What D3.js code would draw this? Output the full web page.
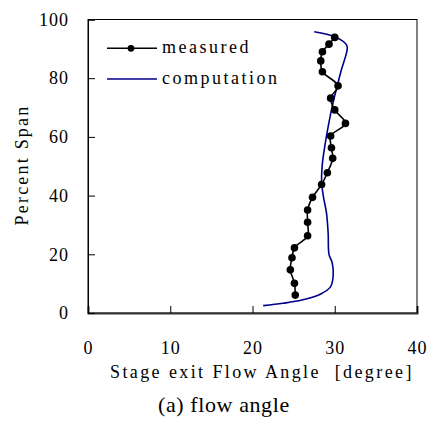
<!DOCTYPE html>
<html>
<head>
<meta charset="utf-8">
<title>flow angle</title>
<script src="https://cdnjs.cloudflare.com/ajax/libs/d3/7.8.5/d3.min.js"></script>
<style>
body { margin: 0; background: #fff; }
</style>
</head>
<body>
<div class="content"></div>
<script>
// measured: flow angle [deg], percent span
var measAngle = [30.0, 29.3, 28.5, 28.3, 28.5, 30.4, 29.5, 30.0, 31.3, 29.5, 29.6, 29.75, 29.1, 28.4, 27.3, 26.7, 26.7, 26.7, 25.1, 24.8, 24.6, 25.1, 25.2];
var measSpan  = [93.9, 91.6, 89.0, 85.9, 82.2, 77.4, 73.2, 69.2, 64.6, 60.3, 56.3, 52.7, 47.8, 43.8, 39.4, 35.1, 30.9, 26.3, 22.2, 18.8, 14.7, 10.1, 6.1];

// computation
var compAngle = [27.5, 30.0, 31.45, 31.5, 30.8, 30.4, 29.7, 29.2, 28.8, 28.5, 28.4, 28.6, 29.0, 29.2, 29.3, 29.7, 29.8, 29.5, 28.3, 26.0, 23.7, 21.3];
var compSpan  = [95.8, 94.1, 91.3, 89.6, 82.8, 78.5, 70.5, 63.5, 57.0, 51.0, 45.0, 40.0, 34.0, 27.0, 20.0, 17.0, 12.5, 9.0, 6.5, 4.4, 3.3, 2.5];

var xTicks = [0, 10, 20, 30, 40];
var yTicks = [0, 20, 40, 60, 80, 100];

var serif = "'Liberation Serif', 'Times New Roman', serif";

var margin = { top: 19.5, left: 88, right: 19, bottom: 108 };
var W = 436, H = 421;
var width = W - margin.left - margin.right,
    height = H - margin.top - margin.bottom;

var svg = d3.select(".content").append("svg")
    .attr("width", W).attr("height", H)
    .style("font-family", serif);

svg.append("rect").attr("width", W).attr("height", H).style("fill", "#fff");

var g = svg.append("g")
    .attr("transform", "translate(" + margin.left + "," + margin.top + ")");

var x = d3.scaleLinear().domain([0, 40]).range([0, width]),
    y = d3.scaleLinear().domain([0, 100]).range([height, 0]);

// frame
g.append("rect")
    .attr("width", width).attr("height", height)
    .style("fill", "none").style("stroke", "#000").style("stroke-width", 1);

var xAxis = d3.axisBottom(x).tickValues(xTicks).tickSize(-7).tickPadding(28);
var yAxis = d3.axisLeft(y).tickValues(yTicks).tickSize(-7).tickPadding(19);

g.append("g")
    .attr("class", "axis axis--x")
    .attr("transform", "translate(0," + height + ")")
    .call(xAxis);

g.append("g")
    .attr("class", "axis axis--y")
    .call(yAxis);

g.selectAll(".axis").attr("font-family", null).attr("font-size", null);
g.selectAll(".tick text")
    .style("font-family", serif)
    .style("font-size", "18px")
    .style("letter-spacing", "1px")
    .style("fill", "#000");
g.selectAll(".domain").style("stroke", "#000");
g.select(".axis--x .domain").style("stroke", "#333").style("stroke-width", 2);
g.selectAll(".tick line").style("stroke", "#000");

var lineMeas = d3.line()
    .curve(d3.curveCatmullRom)
    .x(function (d, i) { return x(measAngle[i]); })
    .y(function (d, i) { return y(measSpan[i]); });

var lineComp = d3.line()
    .curve(d3.curveCatmullRom)
    .x(function (d, i) { return x(compAngle[i]); })
    .y(function (d, i) { return y(compSpan[i]); });

g.append("path")
    .datum(compSpan)
    .attr("d", lineComp)
    .style("fill", "none").style("stroke", "#00008b").style("stroke-width", 1.6);

g.append("path")
    .datum(measSpan)
    .attr("d", lineMeas)
    .style("fill", "none").style("stroke", "#000").style("stroke-width", 1.6);

g.selectAll(".dot")
    .data(measSpan)
  .enter().append("circle")
    .attr("class", "dot")
    .attr("cx", function (d, i) { return x(measAngle[i]); })
    .attr("cy", function (d) { return y(d); })
    .attr("r", 3.8)
    .style("fill", "#000");

// legend
var legend = svg.append("g").attr("class", "legend");
var lg = [
    { name: "measured", color: "#000", dot: true, y: 48.3 },
    { name: "computation", color: "#00008b", dot: false, y: 79 }
];
lg.forEach(function (d) {
    legend.append("line")
        .attr("x1", 107).attr("x2", 157).attr("y1", d.y).attr("y2", d.y)
        .style("stroke", d.color).style("stroke-width", 1.6);
    if (d.dot) {
        legend.append("circle").attr("cx", 131).attr("cy", d.y).attr("r", 3.4).style("fill", "#000");
    }
    legend.append("text").attr("x", 162).attr("y", d.y + 4.5)
        .style("font-size", "18px").style("letter-spacing", "2.5px")
        .text(d.name);
});

// axis titles
svg.append("text")
    .attr("transform", "translate(28,165) rotate(-90)")
    .attr("text-anchor", "middle")
    .style("font-size", "18px").style("letter-spacing", "2.2px")
    .text("Percent Span");

svg.append("text")
    .attr("x", 110).attr("y", 378)
    .style("font-size", "18px").style("letter-spacing", "2.4px")
    .style("white-space", "pre")
    .text("Stage exit Flow Angle  [degree]");

svg.append("text")
    .attr("x", 158).attr("y", 412)
    .style("font-size", "22px").style("letter-spacing", "0.6px")
    .text("(a) flow angle");
</script>
</body>
</html>
